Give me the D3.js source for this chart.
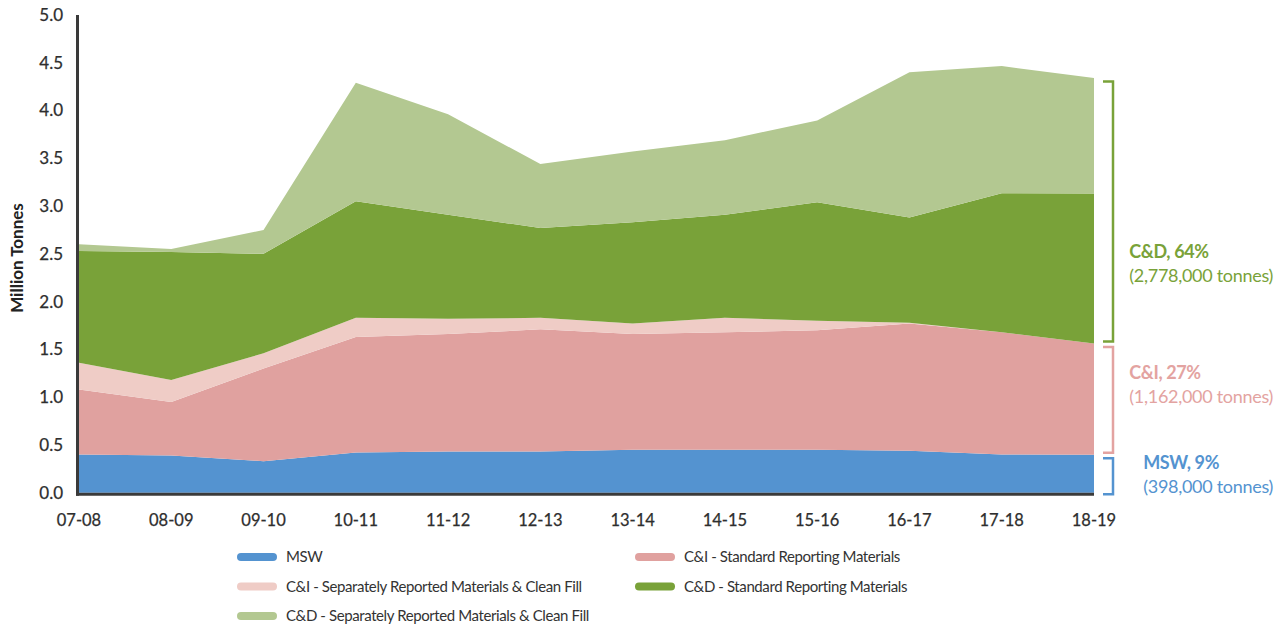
<!DOCTYPE html>
<html>
<head>
<meta charset="utf-8">
<title>Waste generation by stream</title>
<style>
  body { margin: 0; background: #fff; }
  svg { display: block; font-family: 'Lato', sans-serif; }
  .tick-label { font-size: 17px; fill: #2e2e2e; stroke: #2e2e2e; stroke-width: 0.25px; }
  .legend-text { font-size: 15px; fill: #333; }
</style>
</head>
<body>
<svg width="1287" height="629"></svg>
<script src="https://d3js.org/d3.v7.min.js"></script>
<script>
// financial years
const years = ["07-08", "08-09", "09-10", "10-11", "11-12", "12-13",
               "13-14", "14-15", "15-16", "16-17", "17-18", "18-19"];

// million tonnes per stream
const msw        = [0.40, 0.39, 0.33, 0.42, 0.43, 0.43, 0.45, 0.45, 0.45, 0.44, 0.40, 0.398];
const ciStandard = [0.68, 0.56, 0.97, 1.21, 1.23, 1.28, 1.21, 1.23, 1.25, 1.33, 1.28, 1.164];
const ciSeparate = [0.28, 0.23, 0.16, 0.20, 0.16, 0.12, 0.11, 0.15, 0.10, 0.01, 0.00, 0.00];
const cdStandard = [1.17, 1.34, 1.04, 1.22, 1.09, 0.94, 1.06, 1.08, 1.24, 1.10, 1.455, 1.57];
const cdSeparate = [0.07, 0.03, 0.25, 1.24, 1.05, 0.67, 0.74, 0.78, 0.855, 1.52, 1.33, 1.208];

const yTicks = [0, 0.5, 1, 1.5, 2, 2.5, 3, 3.5, 4, 4.5, 5];

const seriesKeys   = ["msw", "ciStandard", "ciSeparate", "cdStandard", "cdSeparate"];
const seriesNames  = ["MSW", "C&I - Standard Reporting Materials",
                      "C&I - Separately Reported Materials & Clean Fill",
                      "C&D - Standard Reporting Materials",
                      "C&D - Separately Reported Materials & Clean Fill"];
const seriesColors = ["#5493d0", "#e0a19f", "#efccc6", "#79a239", "#b3c891"];

// 2018-19 breakdown labels
const groupNames   = ["MSW, 9%", "C&I, 27%", "C&D, 64%"];
const groupTonnes  = ["(398,000 tonnes)", "(1,162,000 tonnes)", "(2,778,000 tonnes)"];
const groupSeries  = [["msw"], ["ciStandard", "ciSeparate"], ["cdStandard", "cdSeparate"]];
const groupColors  = ["#5493d0", "#e3a3a1", "#79a239"];
const groupLabelAt = [0.31, 1.26, 2.52];

const table = years.map((yr, i) => ({
  year: yr,
  msw: msw[i], ciStandard: ciStandard[i], ciSeparate: ciSeparate[i],
  cdStandard: cdStandard[i], cdSeparate: cdSeparate[i]
}));

const svg = d3.select("svg");

let x = d3.scalePoint()
    .domain(years)
    .range([79, 1094]);

let y = d3.scaleLinear()
    .domain([0, 5])
    .range([492.7, 15]);

let stacked = d3.stack().keys(seriesKeys)(table);

let area = d3.area()
    .x(d => x(d.data.year))
    .y0(d => y(d[0]))
    .y1(d => y(d[1]));

svg.append("g")
  .selectAll("path")
  .data(stacked)
  .join("path")
    .attr("fill", (d, i) => seriesColors[i])
    .attr("d", area);

// axes
svg.append("line")
    .attr("x1", 77.5).attr("x2", 77.5)
    .attr("y1", y(5)).attr("y2", y(0) + 3)
    .attr("stroke", "#3a3a3a").attr("stroke-width", 3);

svg.append("line")
    .attr("x1", 76).attr("x2", x.range()[1])
    .attr("y1", y(0) + 1.5).attr("y2", y(0) + 1.5)
    .attr("stroke", "#3a3a3a").attr("stroke-width", 3);

svg.append("g")
  .selectAll("text")
  .data(yTicks)
  .join("text")
    .attr("class", "tick-label")
    .attr("x", 63)
    .attr("y", d => y(d))
    .attr("dy", "0.35em")
    .attr("text-anchor", "end")
    .text(d3.format(".1f"));

svg.append("g")
  .selectAll("text")
  .data(years)
  .join("text")
    .attr("class", "tick-label")
    .attr("x", d => x(d))
    .attr("y", 526)
    .attr("text-anchor", "middle")
    .style("font-size", "16.5px")
    .text(d => d);

svg.append("text")
    .attr("transform", "translate(23,258) rotate(-90)")
    .attr("text-anchor", "middle")
    .style("font-size", "17px")
    .style("font-weight", 700)
    .attr("fill", "#222")
    .text("Million Tonnes");

// brackets for 2018-19
let last = table[table.length - 1];
let cum = 0;
let bx = 1113;
groupSeries.forEach((keys, g) => {
  let bottom = cum;
  keys.forEach(k => { cum += last[k]; });
  let top = cum;
  let yTop = y(top) + 3.5;
  let yBot = g === 0 ? y(bottom) + 1.5 : y(bottom) - 2;
  svg.append("path")
      .attr("d", `M${bx - 10},${yTop}H${bx}V${yBot}H${bx - 10}`)
      .attr("fill", "none")
      .attr("stroke", groupColors[g])
      .attr("stroke-width", 2.5);

  let label = svg.append("g").attr("fill", groupColors[g]);
  let t1 = label.append("text")
      .attr("y", y(groupLabelAt[g]))
      .attr("dy", "0.35em")
      .style("font-size", "18px")
      .style("font-weight", 700)
      .style("letter-spacing", "-0.4px")
      .text(groupNames[g]);
  let t2 = label.append("text")
      .attr("y", y(groupLabelAt[g]) + 24)
      .attr("dy", "0.35em")
      .style("font-size", "18px")
      .style("letter-spacing", "-0.3px")
      .text(groupTonnes[g]);
  let w = Math.max(t1.node().getComputedTextLength(), t2.node().getComputedTextLength());
  label.selectAll("text").attr("x", 1273 - w);
});

// legend
let legend = svg.append("g")
  .selectAll("g")
  .data(seriesNames)
  .join("g")
    .attr("transform", (d, i) => `translate(${i % 2 === 0 ? 241 : 639},${557 + Math.floor(i / 2) * 29.5})`);

legend.append("line")
    .attr("x1", 0).attr("x2", 32)
    .attr("stroke", (d, i) => seriesColors[i])
    .attr("stroke-width", 8)
    .attr("stroke-linecap", "round");

legend.append("text")
    .attr("class", "legend-text")
    .attr("x", 45)
    .attr("dy", "0.35em")
    .style("letter-spacing", "-0.4px")
    .text(d => d);
</script>
</body>
</html>
